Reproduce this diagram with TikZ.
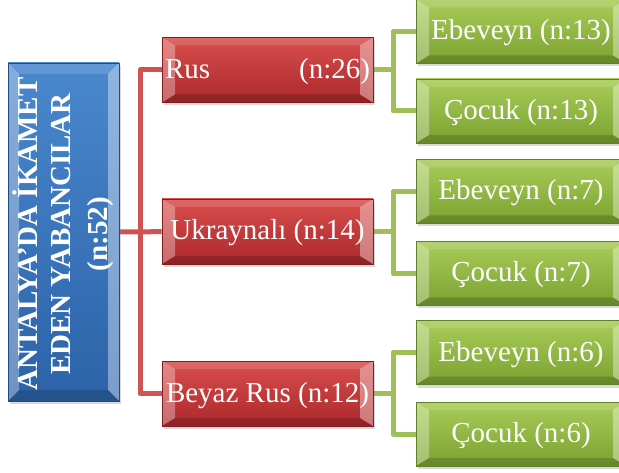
\documentclass[tikz,border=0pt]{standalone}
\usepackage{fontspec}
\setmainfont{Liberation Serif}
\usetikzlibrary{calc,shadows,backgrounds}
\definecolor{redtop}{RGB}{216,78,76}
\definecolor{redbot}{RGB}{172,40,44}
\definecolor{redbord}{RGB}{130,30,32}
\definecolor{redconn}{RGB}{206,84,84}
\definecolor{grntop}{RGB}{168,204,88}
\definecolor{grnbot}{RGB}{122,162,48}
\definecolor{grnbord}{RGB}{95,128,40}
\definecolor{grnconn}{RGB}{158,192,86}
\definecolor{blutop}{RGB}{74,136,206}
\definecolor{blubot}{RGB}{44,98,168}
\definecolor{bluboard}{RGB}{35,75,130}
\tikzset{
  bev/.style 2 args={path picture={
    \path (path picture bounding box.south west) coordinate (bsw)
          (path picture bounding box.north east) coordinate (bne)
          (path picture bounding box.north west) coordinate (bnw)
          (path picture bounding box.south east) coordinate (bse);
    \path ($(bnw)+(#1,-#2)$) coordinate (inw) ($(bne)+(-#1,-#2)$) coordinate (ine)
          ($(bsw)+(#1,#2)$) coordinate (isw) ($(bse)+(-#1,#2)$) coordinate (ise);
    \fill[white,opacity=.14] (bnw) -- (bne) -- (ine) -- (inw) -- cycle;
    \fill[white,opacity=.32] (bnw) -- (inw) -- (isw) -- (bsw) -- cycle;
    \fill[white,opacity=.38] (bne) -- (ine) -- (ise) -- (bse) -- cycle;
    \fill[black,opacity=.16] (bsw) -- (isw) -- (ise) -- (bse) -- cycle;
  }},
  shad/.style={drop shadow={opacity=.3, shadow xshift=2pt, shadow yshift=-3pt}},
  txt/.style={text=white, font=\fontsize{29}{33}\selectfont, text height=19pt, text depth=2pt, inner sep=0pt},
  redbox/.style={txt, top color=redtop, bottom color=redbot, draw=redbord, line width=.6pt,
    minimum width=211pt, minimum height=65pt, bev={13pt}{8pt}, shad},
  grnbox/.style={txt, top color=grntop, bottom color=grnbot, draw=grnbord, line width=.6pt,
    minimum width=210pt, minimum height=64pt, bev={13pt}{8pt}, shad},
  blubox/.style={top color=blutop, bottom color=blubot, draw=bluboard, line width=.6pt,
    minimum width=111pt, minimum height=338pt, inner sep=0pt, bev={11pt}{11pt}, shad},
  redline/.style={draw=redconn, line width=5pt, line join=round},
  grnline/.style={draw=grnconn, line width=5pt, line join=round},
}
\begin{document}
\begin{tikzpicture}[x=1pt,y=-1pt]
\useasboundingbox (0,0) rectangle (619,473);
\clip (0,0) rectangle (619,473);
\coordinate (jr) at (140,232);
\coordinate (g1) at (393,70);
\coordinate (g2) at (393,231.5);
\coordinate (g3) at (393,393.5);
\path
  (63.5,232) node[blubox] (root) {}
  (267.5,70) node[redbox, text width=205pt] (rus) {Rus\hfill(n:26)}
  (267.5,231.5) node[redbox] (ukr) {Ukraynalı (n:14)}
  (267.5,393.5) node[redbox] (bey) {Beyaz Rus (n:12)}
  (521,31.5) node[grnbox] (e1) {Ebeveyn (n:13)}
  (521,111) node[grnbox] (c1) {Çocuk (n:13)}
  (521,191.5) node[grnbox] (e2) {Ebeveyn (n:7)}
  (521,273.5) node[grnbox] (c2) {Çocuk (n:7)}
  (521,352.5) node[grnbox] (e3) {Ebeveyn (n:6)}
  (521,434) node[grnbox] (c3) {Çocuk (n:6)};
\node[rotate=90, text=white, align=center, inner sep=0pt,
      font=\fontsize{29}{33}\selectfont\bfseries] (roottext) at (63,234)
  {ANTALYA'DA İKAMET\\EDEN YABANCILAR\\[4pt](n:52)};
\begin{pgfonlayer}{background}
\draw[redline] (root.east) -- (jr) -- (ukr.west);
\draw[redline] (jr) |- (rus.west);
\draw[redline] (jr) |- (bey.west);
\draw[grnline] (rus.east) -- (g1);
\draw[grnline] (g1) |- (e1.west);
\draw[grnline] (g1) |- (c1.west);
\draw[grnline] (ukr.east) -- (g2);
\draw[grnline] (g2) |- (e2.west);
\draw[grnline] (g2) |- (c2.west);
\draw[grnline] (bey.east) -- (g3);
\draw[grnline] (g3) |- (e3.west);
\draw[grnline] (g3) |- (c3.west);
\end{pgfonlayer}
\end{tikzpicture}
\end{document}
